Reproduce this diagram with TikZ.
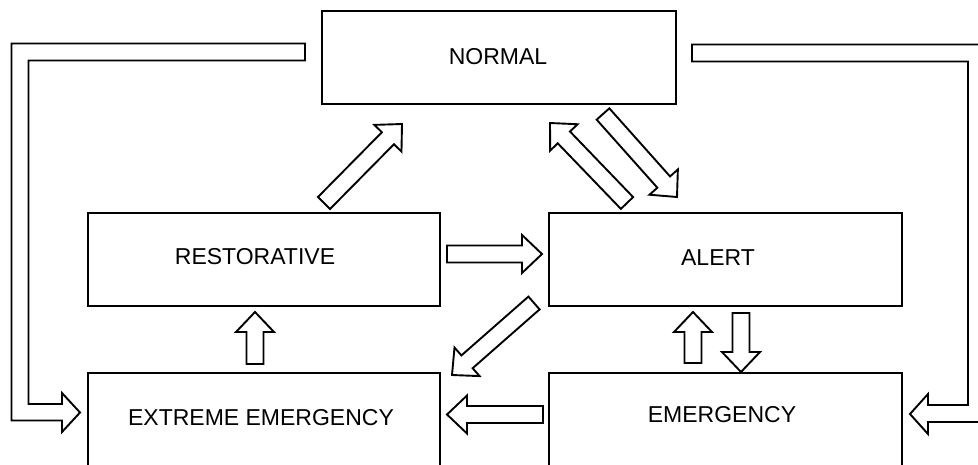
\documentclass[tikz,border=0pt]{standalone}
\usepackage{fontspec}
\setmainfont{Liberation Sans}
\usetikzlibrary{calc}
\tikzset{
  box/.style={draw=black, line width=1.9pt, fill=white, inner sep=0pt, anchor=north west},
  lbl/.style={font=\fontsize{23}{26}\selectfont, text=black, inner sep=0pt},
  arr/.style={draw=black, line width=1.9pt, fill=white, line join=miter}
}
\newcommand\blockarr[2]{%
  \coordinate (bn) at ($(#2)!20pt!(#1)$);
  \draw[arr] ($(#1)!8.5pt!90:(#2)$) -- ($(bn)!8.5pt!90:(#2)$) -- ($(bn)!19pt!90:(#2)$) -- (#2)
    -- ($(bn)!19pt!-90:(#2)$) -- ($(bn)!8.5pt!-90:(#2)$) -- ($(#1)!8.5pt!-90:(#2)$) -- cycle;}
\begin{document}
\begin{tikzpicture}[x=1pt,y=-1pt]
\path[use as bounding box, fill=white] (0,0) rectangle (978,464);
\clip (0,0) rectangle (978,464);
% boxes
\node[box, minimum width=354pt, minimum height=93pt] (normal) at (321,10) {};
\node[box, minimum width=352pt, minimum height=93pt] (rest) at (87,212) {};
\node[box, minimum width=353pt, minimum height=93pt] (alert) at (548,212) {};
\node[box, minimum width=352pt, minimum height=110pt] (ext) at (87,372) {};
\node[box, minimum width=353pt, minimum height=110pt] (emer) at (548,372) {};
% labels
\node[lbl] (normalt) at (498,57) {NORMAL};
\node[lbl] (restt) at (255,257) {RESTORATIVE};
\node[lbl] (alertt) at (718,258) {ALERT};
\node[lbl] (extt) at (261,418) {EXTREME EMERGENCY};
\node[lbl] (emert) at (722,415) {EMERGENCY};
% arrow end points
\coordinate (rn1) at (324,203); \coordinate (rn2) at (402,124);
\coordinate (an1) at (627,203); \coordinate (an2) at (550,123);
\coordinate (na1) at (603,114); \coordinate (na2) at (677,197);
\coordinate (ae1) at (534,303); \coordinate (ae2) at (452,375);
\coordinate (ee1) at (543,414.5); \coordinate (ee2) at (447,414.5);
\coordinate (ra1) at (447,254); \coordinate (ra2) at (542,254);
\coordinate (xr1) at (255,364); \coordinate (xr2) at (255,312);
\coordinate (ea1) at (693,363); \coordinate (ea2) at (693,312);
\coordinate (ae3) at (741,313); \coordinate (ae4) at (741,372);
\blockarr{rn1}{rn2}
\blockarr{an1}{an2}
\blockarr{na1}{na2}
\blockarr{ae1}{ae2}
\blockarr{ee1}{ee2}
\blockarr{ra1}{ra2}
\blockarr{xr1}{xr2}
\blockarr{ea1}{ea2}
\blockarr{ae3}{ae4}
% loop arrows
\draw[arr] (305,43.5) -- (11.5,43.5) -- (11.5,420.5) -- (62,420.5) -- (62,432) -- (80,412.5)
  -- (62,393) -- (62,404) -- (28.5,404) -- (28.5,60.5) -- (305,60.5) -- cycle;
\draw[arr] (692,44.5) -- (985,44.5) -- (985,422) -- (928,422) -- (928,434) -- (910,414)
  -- (928,394) -- (928,405) -- (968,405) -- (968,61.5) -- (692,61.5) -- cycle;
\end{tikzpicture}
\end{document}
